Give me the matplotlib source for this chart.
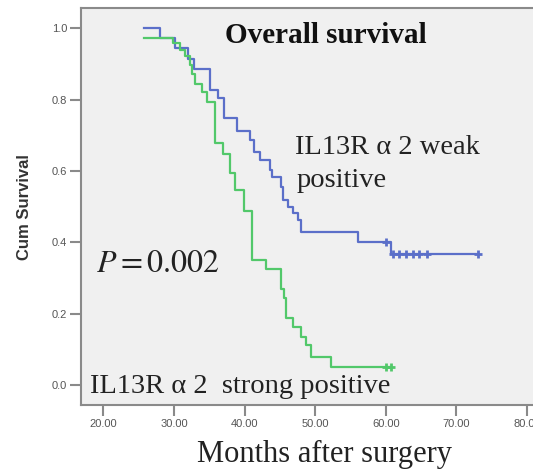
import matplotlib
matplotlib.use("Agg")
import matplotlib.pyplot as plt
import numpy as np

# Kaplan-Meier curves (months, survival after each step)
weak_t = [25.8, 28.0, 30.2, 32.0, 32.9, 35.15, 36.3, 37.1, 38.95, 40.8, 41.3,
          42.2, 43.6, 43.9, 45.1, 45.4, 46.1, 46.8, 47.5, 48.0, 56.1, 60.8]
weak_s = [1.0, 0.973, 0.946, 0.913, 0.887, 0.827, 0.804, 0.748, 0.712, 0.687, 0.654,
          0.631, 0.604, 0.584, 0.556, 0.519, 0.500, 0.481, 0.463, 0.430, 0.400, 0.366]
weak_end = 73.0
weak_cens_t = [60.0, 61.0, 61.9, 62.9, 63.8, 64.7, 65.9, 73.0]
weak_cens_s = [0.400, 0.366, 0.366, 0.366, 0.366, 0.366, 0.366, 0.366]

strong_t = [25.8, 29.9, 30.9, 31.6, 32.3, 32.6, 33.0, 34.0, 34.7, 35.85, 37.0, 37.95,
            38.7, 39.9, 41.1, 43.0, 45.2, 45.6, 45.9, 46.9, 48.0, 48.7, 49.4, 52.2]
strong_s = [0.973, 0.958, 0.940, 0.922, 0.896, 0.873, 0.845, 0.822, 0.794, 0.678, 0.649, 0.594,
            0.546, 0.487, 0.350, 0.324, 0.268, 0.243, 0.188, 0.163, 0.135, 0.112, 0.079, 0.051]
strong_end = 60.8
strong_cens_t = [60.0, 60.8]
strong_cens_s = [0.051, 0.051]

x_ticks = [20, 30, 40, 50, 60, 70, 80]
y_ticks = [0.0, 0.2, 0.4, 0.6, 0.8, 1.0]

blue = '#5b6fc9'
green = '#52c86a'
grey = '#8a8a8a'

plt.rcParams['mathtext.fontset'] = 'stix'

fig = plt.figure(figsize=(5.33, 4.69), dpi=100)
ax = fig.add_axes([81/533, 1 - 405/469, 1 - 81/533 + 0.01, (405 - 8)/469])
ax.set_facecolor('#f0f0f0')

ax.step(weak_t + [weak_end], weak_s + [weak_s[-1]], where='post', color=blue, lw=1.6)
ax.step(strong_t + [strong_end], strong_s + [strong_s[-1]], where='post', color=green, lw=1.6)
ax.plot(weak_cens_t, weak_cens_s, ls='none', marker='+', ms=6, mew=2, color=blue)
ax.plot(strong_cens_t, strong_cens_s, ls='none', marker='+', ms=6, mew=2, color=green)

ax.set_xlim(16.83, 81.6)
ax.set_ylim(-0.056, 1.057)
ax.set_xticks(x_ticks)
ax.set_xticklabels([f'{v:.2f}' for v in x_ticks])
ax.set_yticks(y_ticks)
ax.set_yticklabels([f'{v:.1f}' for v in y_ticks])
ax.tick_params(direction='out', length=8, width=1.5, color=grey, labelcolor='#555555',
               labelsize=8, pad=2)
for lab in ax.get_xticklabels() + ax.get_yticklabels():
    lab.set_family('Liberation Sans')
for side in ['left', 'bottom', 'top']:
    ax.spines[side].set_color(grey)
    ax.spines[side].set_linewidth(1.5)
ax.spines['right'].set_visible(False)

serif = 'Liberation Serif'
ax.text(51.5, 0.958, 'Overall survival', family=serif, fontweight='bold', fontsize=21,
        ha='center', va='baseline', color='#111111')
ax.text(47.2, 0.649, 'IL13R \u03b1 2 weak', family=serif, fontsize=20.5, ha='left',
        va='baseline', color='#222222')
ax.text(47.4, 0.556, 'positive', family=serif, fontsize=20.5, ha='left', va='baseline',
        color='#222222')
ax.text(19.0, 0.318, r'$P = 0.002$', fontsize=23, ha='left', va='baseline', color='#222222')
ax.text(18.1, -0.022, 'IL13R \u03b1 2  strong positive', family=serif, fontsize=20.5,
        ha='left', va='baseline', color='#222222')

fig.text(0.608, 0.015, 'Months after surgery', family=serif, fontsize=22, ha='center',
         va='baseline', color='#222222')
fig.text(25/533, 1 - 207/469, 'Cum Survival', family='Liberation Sans', fontweight='bold',
         fontsize=12, rotation=90, ha='center', va='center', color='#333333')

fig.savefig('out.png', dpi=100)
